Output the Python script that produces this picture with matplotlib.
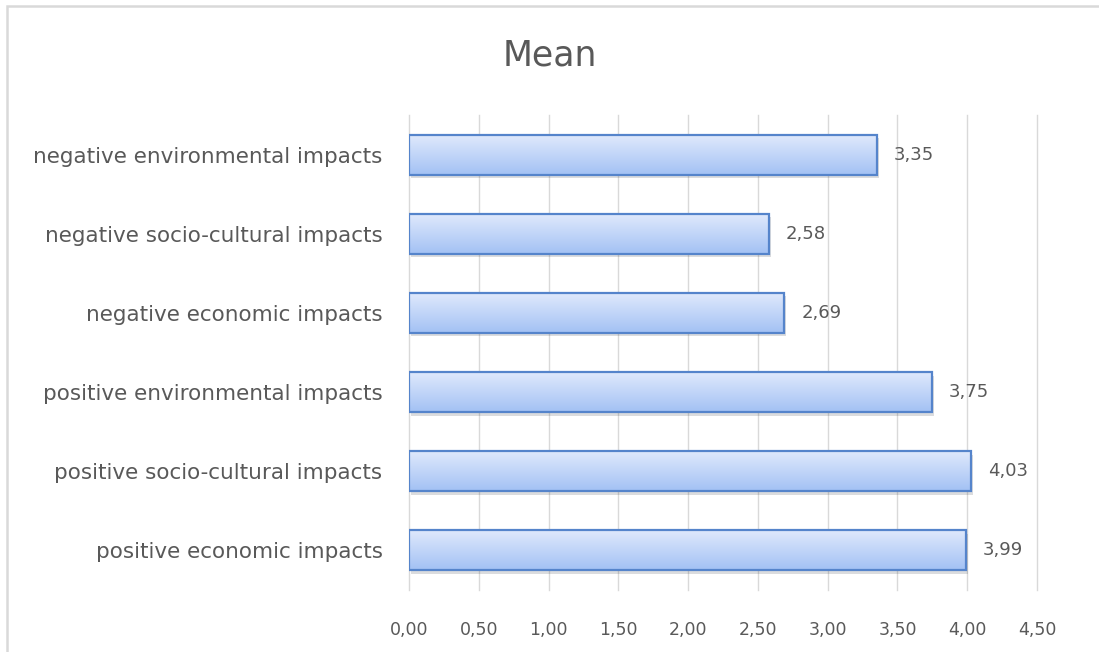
import numpy as np
import matplotlib.pyplot as plt
from matplotlib.patches import Rectangle
from matplotlib.colors import LinearSegmentedColormap
import matplotlib.patheffects as pe

# mean score per impact group (bottom to top)
categories = ["positive economic impacts",
              "positive socio-cultural impacts",
              "positive environmental impacts",
              "negative economic impacts",
              "negative socio-cultural impacts",
              "negative environmental impacts"]
means = [3.99, 4.03, 3.75, 2.69, 2.58, 3.35]
xticks = [0.0, 0.5, 1.0, 1.5, 2.0, 2.5, 3.0, 3.5, 4.0, 4.5]

text_col = "#595959"
grid_col = "#d9d9d9"

fig = plt.figure(figsize=(10.99, 6.52), dpi=100)
ax = fig.add_axes([409 / 1099, 1 - 590 / 652, 628 / 1099, 475 / 652])

y = np.arange(len(categories))
h = 0.505

# filled bars with a soft drop shadow
bars = ax.barh(y, means, height=h, color="#c4d7f8", zorder=2,
               path_effects=[pe.SimplePatchShadow(offset=(1.5, -2.5), alpha=0.18),
                             pe.Normal()])

# vertical gradient on each bar
grad = np.linspace(0, 1, 100).reshape(-1, 1)
cmap = LinearSegmentedColormap.from_list("barfill", ["#a3c1f4", "#dfe9fc"])
for b in bars:
    x0, y0 = b.get_x(), b.get_y()
    w, hh = b.get_width(), b.get_height()
    im = ax.imshow(grad, cmap=cmap, aspect="auto", origin="lower",
                   extent=[x0, x0 + w, y0, y0 + hh], zorder=2.5)
    im.set_clip_path(b)

# outlines on top
ax.barh(y, means, height=h, facecolor="none", edgecolor="#5584cb",
        linewidth=1.6, zorder=3)

# value labels
for yi, v in zip(y, means):
    ax.text(v + 0.12, yi, f"{v:.2f}".replace(".", ","), va="center", ha="left",
            fontsize=13, color=text_col, zorder=4)

ax.set_xlim(0, 4.5)
ax.set_ylim(-0.5, len(categories) - 0.5)
ax.set_xticks(xticks)
ax.set_xticklabels([f"{t:.2f}".replace(".", ",") for t in xticks])
ax.set_yticks(y)
ax.set_yticklabels(categories)
ax.tick_params(axis="x", length=0, pad=22, labelsize=12.5, labelcolor=text_col)
ax.tick_params(axis="y", length=0, pad=19, labelsize=15.5, labelcolor=text_col)
ax.grid(axis="x", color=grid_col, linewidth=1.0, zorder=0)
ax.set_axisbelow(True)
for gl in ax.get_xgridlines():
    gl.set_clip_on(False)
for s in ax.spines.values():
    s.set_visible(False)

fig.text(0.5, 1 - 55 / 652, "Mean", ha="center", va="center",
         fontsize=25, color=text_col)

# chart area border (only top and left edges fall inside the image)
fig.patches.append(Rectangle((7 / 1099, -0.1), 1.2, 1.1 - 5.5 / 652,
                             transform=fig.transFigure, fill=False,
                             edgecolor=grid_col, linewidth=1.8))

fig.savefig("out.png", dpi=100)
